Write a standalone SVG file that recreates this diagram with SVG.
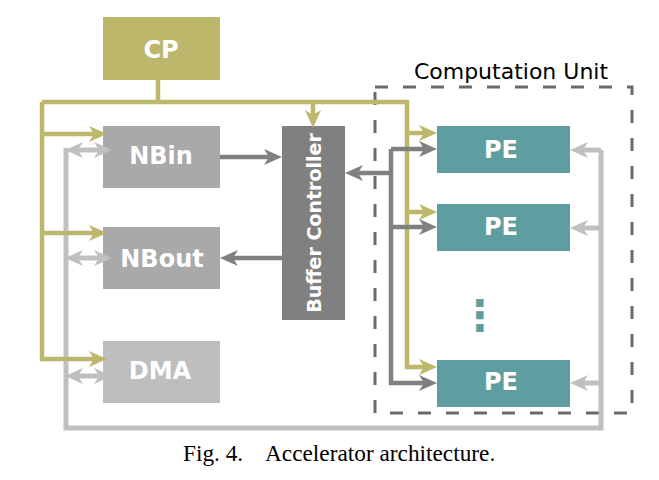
<svg xmlns="http://www.w3.org/2000/svg" width="659" height="480" viewBox="0 0 659 480">
<style>
.lbl{font-family:"DejaVu Sans",Verdana,sans-serif;font-weight:bold;fill:#ffffff;text-anchor:middle}
.ol{fill:none;stroke:#bdb76b;stroke-width:4.5}
.dg{fill:none;stroke:#808080;stroke-width:4.5}
.lg{fill:none;stroke:#c0c0c0;stroke-width:5}
.ol.a{marker-end:url(#ao)}
.dg.a{marker-end:url(#ad)}
.lg.a{marker-end:url(#al)}
.lg.b{marker-start:url(#al);marker-end:url(#al)}
</style>
<defs>
<marker id="ao" viewBox="0 0 18 16" refX="10" refY="8" markerWidth="18" markerHeight="16" orient="auto-start-reverse" markerUnits="userSpaceOnUse"><path d="M0,0 L18,8 L0,16 L5,8 Z" fill="#bdb76b"/></marker>
<marker id="ad" viewBox="0 0 18 16" refX="10" refY="8" markerWidth="18" markerHeight="16" orient="auto-start-reverse" markerUnits="userSpaceOnUse"><path d="M0,0 L18,8 L0,16 L5,8 Z" fill="#808080"/></marker>
<marker id="al" viewBox="0 0 18 16" refX="10" refY="8" markerWidth="18" markerHeight="16" orient="auto-start-reverse" markerUnits="userSpaceOnUse"><path d="M0,0 L18,8 L0,16 L5,8 Z" fill="#c0c0c0"/></marker>
</defs>
<rect width="659" height="480" fill="#ffffff"/>

<g id="computation-unit">
<rect x="375" y="87" width="257" height="326" fill="none" stroke="#6b6b6b" stroke-width="3" stroke-dasharray="13 15"/>
<text x="511" y="79" font-family="DejaVu Sans,Verdana,sans-serif" font-size="22" fill="#000000" text-anchor="middle">Computation Unit</text>
</g>

<g id="cp"><rect x="103" y="17" width="117" height="63" fill="#bdb76b"/><text class="lbl" x="161" y="58" font-size="24">CP</text></g>
<g id="nbin"><rect x="103" y="126" width="117" height="62" fill="#a9a9a9"/><text class="lbl" x="161" y="164" font-size="24">NBin</text></g>
<g id="nbout"><rect x="103" y="227" width="117" height="62" fill="#a9a9a9"/><text class="lbl" x="162" y="267" font-size="24">NBout</text></g>
<g id="dma"><rect x="103" y="341" width="117" height="62" fill="#bebebe"/><text class="lbl" x="160" y="379" font-size="24">DMA</text></g>
<g id="buffer-controller"><rect x="282" y="126" width="63" height="194" fill="#808080"/><text class="lbl" font-size="19" transform="translate(321,223) rotate(-90)">Buffer Controller</text></g>
<g id="pe1"><rect x="437" y="126" width="133" height="47" fill="#5f9ea0"/><text class="lbl" x="501" y="158" font-size="24">PE</text></g>
<g id="pe2"><rect x="437" y="204" width="133" height="47" fill="#5f9ea0"/><text class="lbl" x="501" y="235" font-size="24">PE</text></g>
<g id="pe3"><rect x="437" y="360" width="133" height="47" fill="#5f9ea0"/><text class="lbl" x="501" y="390" font-size="24">PE</text></g>
<g id="ellipsis"><text x="480" y="330" font-family="DejaVu Sans,sans-serif" font-weight="bold" font-size="42" fill="#5f9ea0" text-anchor="middle">⋮</text></g>

<g id="connectors">
<path class="lg" d="M66,148 V428 H601 V150"/>
<path class="lg a" d="M601,150 H578"/>
<path class="lg a" d="M601,228 H578"/>
<path class="lg a" d="M601,383 H578"/>
<path class="lg b" d="M73,150 H104"/>
<path class="lg b" d="M73,258 H104"/>
<path class="lg b" d="M73,376 H104"/>

<path class="ol" d="M158,80 V102"/>
<path class="ol a" d="M42,102 V359 H99"/>
<path class="ol a" d="M42,102 H407 V367 H429"/>
<path class="ol a" d="M42,134 H99"/>
<path class="ol a" d="M42,233 H99"/>
<path class="ol a" d="M313,102 V120"/>
<path class="ol a" d="M407,133 H429"/>
<path class="ol a" d="M407,212 H429"/>

<path class="dg a" d="M220,157 H274"/>
<path class="dg a" d="M282,258 H228"/>
<path class="dg a" d="M391,149 H429"/>
<path class="dg a" d="M391,149 V383 H429"/>
<path class="dg a" d="M391,227 H429"/>
<path class="dg a" d="M391,173 H353"/>
</g>

<g id="caption" font-family="Liberation Serif,Times New Roman,serif" font-size="23.3" fill="#000000">
<text x="183" y="461">Fig. 4.</text>
<text x="265" y="461">Accelerator architecture.</text>
</g>
</svg>
